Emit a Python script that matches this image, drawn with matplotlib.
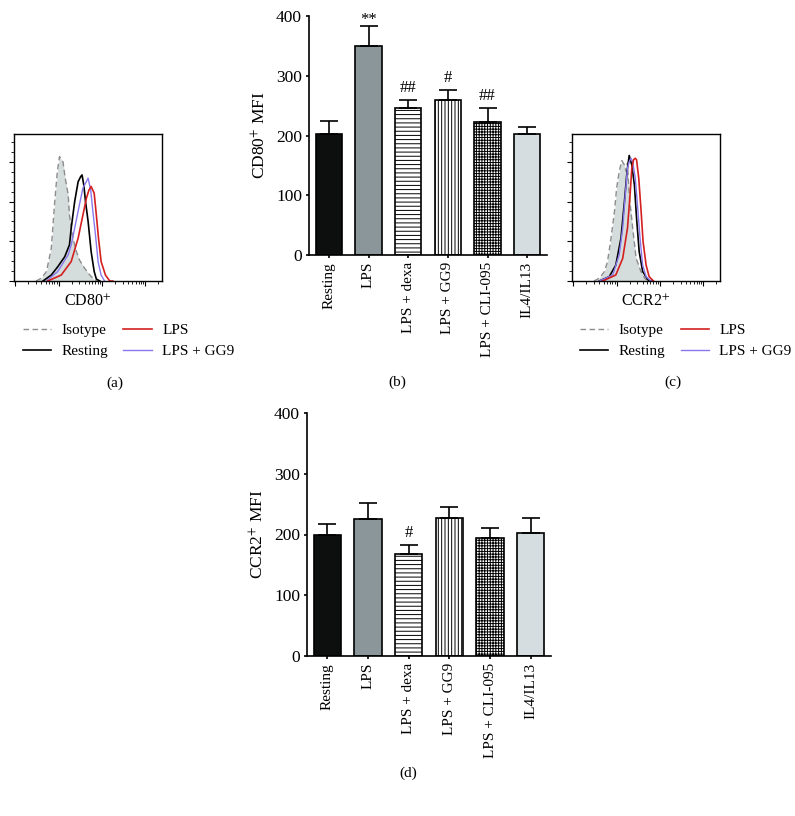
import numpy as np
import matplotlib
matplotlib.use('Agg')
import matplotlib.pyplot as plt
from matplotlib.ticker import MultipleLocator, NullFormatter, LogLocator

plt.rcParams['font.family'] = ['Liberation Serif', 'DejaVu Serif']
plt.rcParams['mathtext.fontset'] = 'stix'
plt.rcParams['font.size'] = 11
plt.rcParams['hatch.linewidth'] = 0.7

W, H = 795, 816

# bar chart data
groups = ['Resting', 'LPS', 'LPS + dexa', 'LPS + GG9', 'LPS + CLI-095', 'IL4/IL13']
cd80_mean = [203, 349, 246, 259, 222, 203]
cd80_err = [22, 35, 13, 17, 24, 11]
cd80_marks = ['', '**', '##', '#', '##', '']
ccr2_mean = [200, 226, 168, 227, 194, 202]
ccr2_err = [17, 26, 14, 19, 16, 25]
ccr2_marks = ['', '', '#', '', '', '']

bar_colors = ['#0d0f0e', '#8a969a', 'white', 'white', 'white', '#d5dde0']
bar_hatch = [None, None, '----', '|||||', '++++++', None]

# histogram curves (x in log10 fluorescence, y in counts scale)
cd80_iso_x = [0.48, 0.60, 0.72, 0.83, 0.91, 0.97, 1.02, 1.10, 1.15, 1.22, 1.25, 1.33, 1.41, 1.48, 1.60, 1.72, 1.83, 1.91]
cd80_iso_y = [0.0, 0.07, 0.24, 0.82, 2.0, 2.76, 3.13, 3.0, 2.6, 2.17, 1.66, 1.08, 0.74, 0.53, 0.32, 0.15, 0.03, 0.0]
cd80_rest_x = [0.64, 0.83, 0.98, 1.14, 1.25, 1.29, 1.37, 1.45, 1.51, 1.54, 1.58, 1.62, 1.68, 1.75, 1.82, 1.87, 1.95]
cd80_rest_y = [0.0, 0.15, 0.36, 0.61, 0.91, 1.33, 2.0, 2.5, 2.63, 2.67, 2.42, 2.0, 1.5, 0.74, 0.24, 0.05, 0.0]
cd80_gg9_x = [0.72, 0.98, 1.22, 1.29, 1.37, 1.48, 1.56, 1.62, 1.68, 1.74, 1.79, 1.85, 1.91, 1.98, 2.06]
cd80_gg9_y = [0.0, 0.24, 0.66, 0.91, 1.33, 1.92, 2.34, 2.46, 2.59, 2.29, 1.75, 1.16, 0.49, 0.15, 0.0]
cd80_lps_x = [0.75, 1.06, 1.29, 1.45, 1.56, 1.64, 1.70, 1.75, 1.82, 1.87, 1.92, 1.98, 2.08, 2.18, 2.25]
cd80_lps_y = [0.0, 0.15, 0.49, 1.08, 1.66, 2.08, 2.29, 2.38, 2.21, 1.66, 1.08, 0.49, 0.15, 0.0, 0.0]

ccr2_iso_x = [0.48, 0.60, 0.72, 0.79, 0.87, 0.95, 1.0, 1.06, 1.12, 1.18, 1.22, 1.25, 1.29, 1.37, 1.45, 1.56, 1.66, 1.75]
ccr2_iso_y = [0.0, 0.07, 0.24, 0.49, 1.08, 1.75, 2.34, 2.76, 3.03, 2.92, 2.76, 2.97, 2.17, 1.33, 0.57, 0.24, 0.05, 0.0]
ccr2_rest_x = [0.60, 0.83, 0.98, 1.10, 1.18, 1.24, 1.29, 1.35, 1.41, 1.46, 1.52, 1.60, 1.72, 1.79]
ccr2_rest_y = [0.0, 0.11, 0.40, 1.08, 2.0, 2.76, 3.16, 2.92, 2.42, 1.58, 0.74, 0.24, 0.03, 0.0]
ccr2_gg9_x = [0.60, 0.91, 1.06, 1.14, 1.20, 1.25, 1.29, 1.33, 1.37, 1.43, 1.48, 1.54, 1.60, 1.68, 1.79]
ccr2_gg9_y = [0.0, 0.15, 0.66, 1.33, 2.17, 2.84, 3.0, 3.09, 3.0, 2.59, 1.92, 1.08, 0.40, 0.11, 0.0]
ccr2_lps_x = [0.68, 0.98, 1.14, 1.25, 1.31, 1.35, 1.39, 1.43, 1.46, 1.51, 1.56, 1.61, 1.68, 1.75, 1.85]
ccr2_lps_y = [0.0, 0.15, 0.57, 1.33, 2.17, 2.84, 3.05, 3.09, 3.05, 2.59, 1.83, 0.99, 0.40, 0.11, 0.0]


def box(l, t, r, b):
    return [l / W, 1 - b / H, (r - l) / W, (b - t) / H]


def hist_panel(ax, curves, xlabel):
    iso, rest, lps, gg9 = curves
    ix = 10 ** np.array(iso[0])
    ax.fill_between(ix, iso[1], color='#d5dcdc', lw=0)
    ax.plot(ix, iso[1], color='#8c8c8c', lw=1, ls=(0, (4, 2.5)), label='Isotype')
    ax.plot(10 ** np.array(rest[0]), rest[1], color='black', lw=1.2, label='Resting')
    ax.plot(10 ** np.array(gg9[0]), gg9[1], color='#8878ee', lw=1, label='LPS + GG9')
    ax.plot(10 ** np.array(lps[0]), lps[1], color='#d42020', lw=1.2, label='LPS')
    ax.set_xscale('log')
    ax.set_xlim(10 ** -0.03, 10 ** 3.385)
    ax.set_ylim(0, 3.7)
    ax.xaxis.set_major_locator(LogLocator(base=10, numticks=12))
    ax.xaxis.set_minor_locator(LogLocator(base=10, subs=np.arange(2, 10), numticks=12))
    ax.yaxis.set_major_locator(MultipleLocator(1))
    ax.yaxis.set_minor_locator(MultipleLocator(0.25))
    ax.xaxis.set_major_formatter(NullFormatter())
    ax.xaxis.set_minor_formatter(NullFormatter())
    ax.yaxis.set_major_formatter(NullFormatter())
    ax.tick_params(which='major', length=3.5, width=0.8)
    ax.tick_params(which='minor', length=2, width=0.6)
    for s in ax.spines.values():
        s.set_linewidth(1)
    ax.set_xlabel(xlabel, labelpad=2, fontsize=11.5)


def bar_panel(ax, means, errs, marks, ylabel):
    x = np.arange(len(groups))
    ax.bar(x, means, width=0.67, color=bar_colors, edgecolor='black',
           linewidth=1.2, hatch=bar_hatch, zorder=2)
    ax.errorbar(x, means, yerr=[[0] * len(errs), errs], fmt='none',
                ecolor='black', elinewidth=1.2, capsize=6.5, capthick=1.2, zorder=3)
    for xi, m, e, t in zip(x, means, errs, marks):
        if t:
            off = -2 if '*' in t else 3
            ax.annotate(t, (xi, m + e), xytext=(0, off), textcoords='offset points',
                        ha='center', va='bottom', fontsize=12)
    ax.set_xlim(-0.5, 5.5)
    ax.set_ylim(0, 400)
    ax.set_yticks([0, 100, 200, 300, 400])
    ax.set_xticks(x)
    ax.set_xticklabels(groups, rotation=90, fontsize=11)
    ax.tick_params(axis='y', labelsize=12.5)
    ax.spines['top'].set_visible(False)
    ax.spines['right'].set_visible(False)
    ax.spines['left'].set_linewidth(1.2)
    ax.spines['bottom'].set_linewidth(1.2)
    ax.tick_params(length=2.5, width=1.2, pad=2.5)
    ax.set_ylabel(ylabel, labelpad=5, fontsize=12.5)


fig = plt.figure(figsize=(W / 100, H / 100), dpi=100)

ax_a = fig.add_axes(box(14, 134, 162, 281))
hist_panel(ax_a, [(cd80_iso_x, cd80_iso_y), (cd80_rest_x, cd80_rest_y),
                  (cd80_lps_x, cd80_lps_y), (cd80_gg9_x, cd80_gg9_y)], 'CD80$^{+}$')

ax_c = fig.add_axes(box(572, 134, 720, 281))
hist_panel(ax_c, [(ccr2_iso_x, ccr2_iso_y), (ccr2_rest_x, ccr2_rest_y),
                  (ccr2_lps_x, ccr2_lps_y), (ccr2_gg9_x, ccr2_gg9_y)], 'CCR2$^{+}$')

for ax, lx in [(ax_a, 15), (ax_c, 572)]:
    h, l = ax.get_legend_handles_labels()
    order = [0, 1, 3, 2]
    fig.legend([h[i] for i in order], [l[i] for i in order], ncol=2,
               loc='upper left', bbox_to_anchor=(lx / W, 1 - 316 / H),
               frameon=False, borderpad=0, handlelength=1.85, handletextpad=0.7,
               columnspacing=1.0, labelspacing=0.45, fontsize=11)

ax_b = fig.add_axes(box(309, 16, 547, 255))
bar_panel(ax_b, cd80_mean, cd80_err, cd80_marks, 'CD80$^{+}$ MFI')

ax_d = fig.add_axes(box(307, 413, 551, 656))
bar_panel(ax_d, ccr2_mean, ccr2_err, ccr2_marks, 'CCR2$^{+}$ MFI')

for t, px, py in [('(a)', 115, 383), ('(b)', 397, 382), ('(c)', 673, 382), ('(d)', 408, 773)]:
    fig.text(px / W, 1 - py / H, t, ha='center', va='center', fontsize=11)

fig.savefig('out.png', dpi=100)
